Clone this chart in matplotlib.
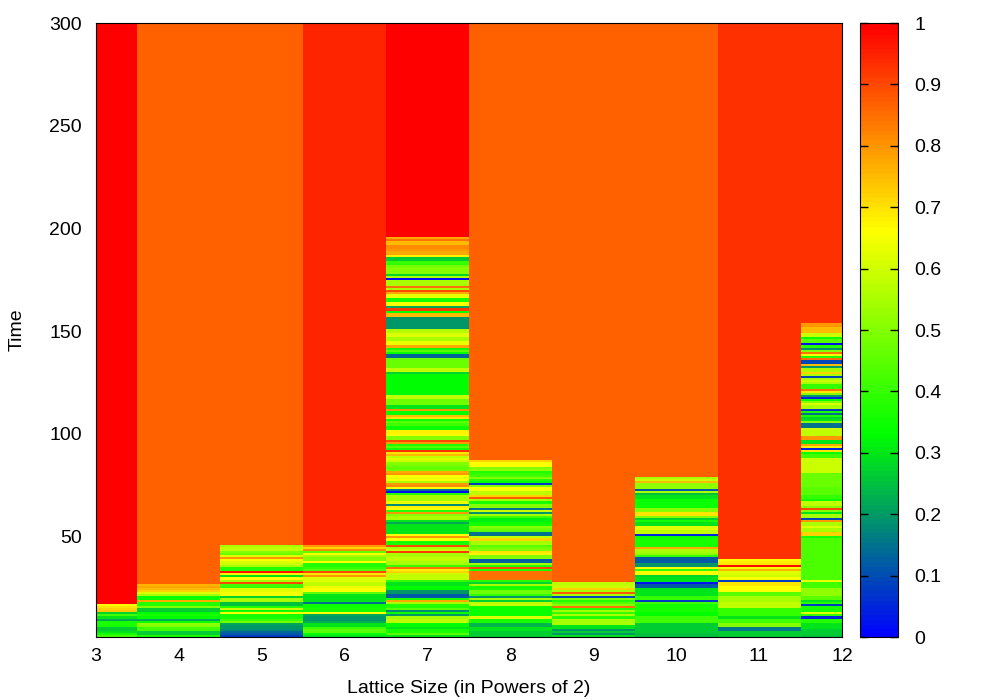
import numpy as np
import matplotlib
matplotlib.use('Agg')
import matplotlib.pyplot as plt
from matplotlib.colors import LinearSegmentedColormap

plt.rcParams['font.family'] = ['Liberation Sans', 'DejaVu Sans']
plt.rcParams['font.size'] = 14

lattice_sizes = [3, 4, 5, 6, 7, 8, 9, 10, 11, 12]
time_ticks = [50, 100, 150, 200, 250, 300]
bar_ticks = [0, 0.1, 0.2, 0.3, 0.4, 0.5, 0.6, 0.7, 0.8, 0.9, 1]
bar_labels = ['0', '0.1', '0.2', '0.3', '0.4', '0.5', '0.6', '0.7', '0.8', '0.9', '1']

# value every time step starts at t=1, each list read bottom up from the picture
col_3 = [.42, .36, .30, .27, .27, .36, .37, .36, .22, .30, .42, .28, .74, .72, .70, .66]
col_4 = [.36, .27, .27, .42, .42, .50, .52, .35, .22, .33, .36, .33, .27, .27, .50, .38,
         .38, .78, .35, .35, .55, .62, .72, .75, .78, .76]
col_5 = [.08, .12, .14, .18, .20, .20, .22, .48, .42, .36, .36, .66, .35, .60, .38, .25,
         .25, .55, .55, .28, .65, .65, .63, .62, .40, .42, .90, .55, .66, .30, .68, .97,
         .38, .38, .55, .60, .62, .66, .80, .62, .47, .50, .58, .58, .55]
col_6 = [.30, .33, .45, .45, .42, .30, .30, .22, .20, .20, .22, .66, .36, .36, .35, .35,
         .15, .30, .30, .30, .30, .45, .66, .66, .64, .58, .58, .62, .62, .80, .70, .90,
         .45, .40, .37, .38, .66, .50, .50, .55, .66, .45, .82, .72, .80]
col_7 = [.30, .45, .36, .36, .30, .33, .33, .58, .58, .55, .20, .35, .18, .45, .38, .38,
         .55, .78, .37, .12, .12, .20, .20, .33, .33, .30, .30, .40, .58, .58, .60, .72,
         .68, .85, .40, .55, .55, .58, .58, .55, .55, .92, .60, .55, .90, .36, .36, .66,
         .80, .67, .30, .30, .30, .30, .30, .22, .30, .55, .55, .50, .80, .38, .65, .68,
         .18, .64, .55, .55, .55, .38, .02, .15, .66, .82, .80, .55, .66, .64, .66, .80,
         .78, .48, .46, .48, .50, .60, .62, .58, .75, .70, .93, .36, .45, .38, .80, .90,
         .50, .50, .65, .68, .68, .35, .35, .42, .45, .35, .70, .75, .33, .33, .80, .30,
         .30, .48, .48, .48, .58, .58, .33, .33, .33, .33, .33, .33, .33, .33, .33, .33,
         .28, .58, .58, .47, .47, .47, .47, .47, .14, .14, .35, .45, .36, .78, .64, .64,
         .55, .55, .62, .62, .57, .57, .20, .20, .20, .20, .20, .20, .75, .75, .34, .92,
         .22, .66, .66, .36, .36, .64, .64, .78, .90, .55, .85, .55, .55, .55, .02, .55,
         .28, .50, .50, .50, .48, .40, .40, .27, .27, .68, .78, .78, .80, .82, .82, .75,
         .75, .85, .78]
col_8 = [.27, .27, .27, .30, .30, .24, .24, .36, .36, .62, .35, .35, .35, .35, .35, .60,
         .58, .28, .55, .20, .40, .48, .48, .36, .36, .55, .28, .38, .85, .85, .85, .85,
         .38, .90, .38, .55, .14, .12, .50, .50, .68, .70, .50, .48, .45, .55, .55,
         .72, .58, .15, .15, .45, .48, .50, .36, .35, .32, .32, .42, .55, .20,
         .60, .15, .50, .50, .36, .55, .88, .72, .58, .58, .66, .67, .50, .08, .33, .38,
         .50, .42, .40, .38, .52, .50, .66, .66, .72]
col_9 = [.30, .20, .27, .20, .30, .30, .55, .55, .55, .38, .55, .40, .55, .38, .85, .50,
         .45, .38, .50, .10, .55, .88, .55, .72, .60, .58, .58]
col_10 = [.25, .25, .27, .27, .27, .27, .27, .42, .42, .42, .33, .33, .36, .36, .36, .36, .42,
          .08, .40, .40, .30, .30, .30, .30, .12, .12, .03, .30, .30, .28, .66, .66, .40, .65,
          .20, .20, .12, .12, .12, .40, .52, .55, .55, .78, .36, .36, .36, .36, .35, .05, .58,
          .58, .62, .62, .30, .30, .36, .28, .50, .70, .70, .50, .50, .35, .35, .35, .35,
          .30, .30, .25, .55, .12, .52, .52, .52, .75, .60, .55]
col_11 = [.27, .27, .27, .16, .16, .50, .50, .42, .42, .30, .40, .40, .40, .40, .58, .58,
          .58, .55, .55, .55, .45, .45, .66, .66, .66, .70, .70, .08, .66, .60, .62, .62, .76,
          .65, .98, .70, .68, .67]
col_12 = [.25, .27, .27, .27, .30, .30, .30, .38, .38, .06, .40, .63, .36, .36, .36, .08, .38,
          .30, .45, .45, .52, .52, .52, .52, .42, .42, .42, .64, .43, .43, .43, .43, .43, .43,
          .43, .43, .43, .43, .43, .43, .43, .43, .43, .43, .43, .43, .43, .43, .36, .72, .72,
          .55, .55, .62, .55, .55, .80, .10, .55, .55, .30, .50, .90, .50, .58, .58, .35, .40,
          .40, .45, .45, .45, .45, .47, .47, .47, .47, .47, .47, .47, .60, .60, .60, .60, .60,
          .60, .60, .42, .42, .35, .70, .05, .68, .78, .30, .30, .80, .80, .58, .58, .58, .60,
          .15, .15, .50, .30, .28, .36, .15, .36, .08, .55, .55, .62, .50, .35, .05, .20,
          .50, .70, .85, .40, .40, .55, .60, .55, .10, .55, .72, .55, .55, .20, .75, .10,
          .10, .85, .38, .66, .85, .50, .20, .38, .03, .45, .45, .35, .60, .60, .75, .75,
          .75, .80, .80]
columns = [col_3, col_4, col_5, col_6, col_7, col_8, col_9, col_10, col_11, col_12]

# level each run settles on once it has converged
settled = [1.0, .87, .87, .95, 1.0, .87, .87, .87, .93, .93]

palette = LinearSegmentedColormap.from_list(
    'bgyr', [(0, 0, 1), (0, 1, 0), (1, 1, 0), (1, 0, 0)], N=128)

# Fill the time by lattice grid
n_steps = 299
grid = np.zeros((n_steps, len(lattice_sizes)))
for i, col in enumerate(columns):
    grid[:, i] = settled[i]
    grid[:len(col), i] = col

x_edges = [3] + [s + 0.5 for s in lattice_sizes[:-1]] + [12]
y_edges = np.arange(1, n_steps + 2)

fig = plt.figure(figsize=(10, 7), dpi=100)
ax = fig.add_axes([0.096, 0.09, 0.746, 0.877])
mesh = ax.pcolormesh(x_edges, y_edges, grid, cmap=palette, vmin=0, vmax=1)
ax.set_xlim(3, 12)
ax.set_ylim(1, 300)
ax.set_xticks(lattice_sizes)
ax.set_yticks(time_ticks)
ax.tick_params(axis='x', length=0, pad=8)
ax.tick_params(axis='y', length=0, pad=10)
ax.set_xlabel('Lattice Size (in Powers of 2)', labelpad=11)
ax.set_ylabel('Time', labelpad=17)

# Colour key on the right
cax = fig.add_axes([0.860, 0.09, 0.038, 0.877])
cbar = fig.colorbar(mesh, cax=cax)
cbar.set_ticks(bar_ticks)
cbar.set_ticklabels(bar_labels)
cax.tick_params(left=True, right=True, direction='in', length=6, width=1, pad=12)
cbar.solids.set_edgecolor('face')

fig.savefig('out.png', dpi=100)
